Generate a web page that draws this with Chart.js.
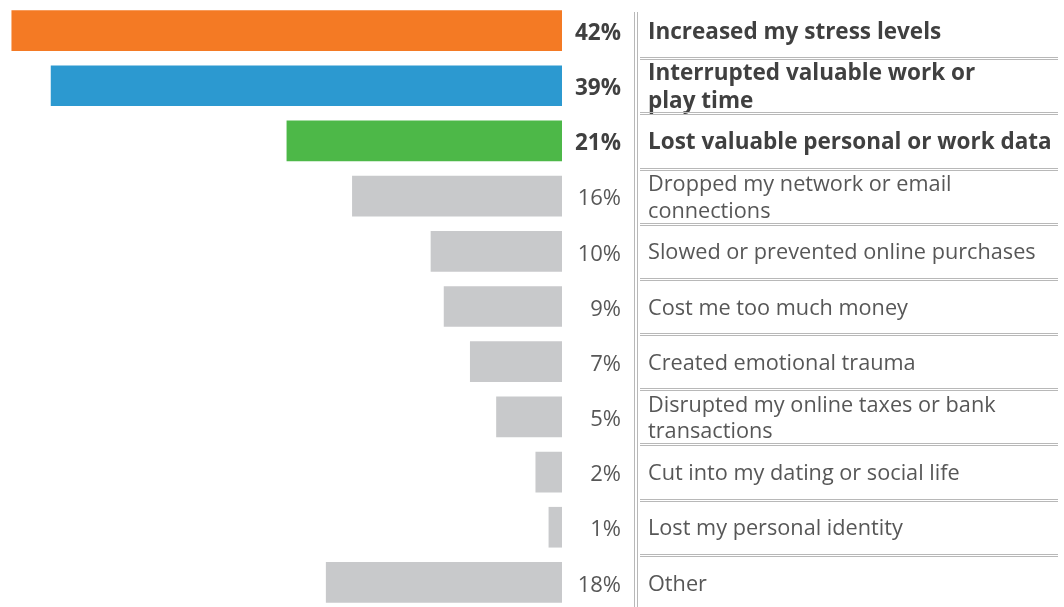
<!DOCTYPE html>
<html>
<head>
<meta charset="utf-8">
<script src="https://cdn.jsdelivr.net/npm/chart.js@4/dist/chart.umd.min.js"></script>
<style>
  html, body { margin: 0; padding: 0; background: #fff; overflow: hidden; }
  #wrap { width: 1064px; height: 610px; }
</style>
</head>
<body>
<div id="wrap"><canvas id="impactChart"></canvas></div>
<script>
// values
const categories = [
  "Increased my stress levels",
  ["Interrupted valuable work or", "play time"],
  "Lost valuable personal or work data",
  ["Dropped my network or email", "connections"],
  "Slowed or prevented online purchases",
  "Cost me too much money",
  "Created emotional trauma",
  ["Disrupted my online taxes or bank", "transactions"],
  "Cut into my dating or social life",
  "Lost my personal identity",
  "Other"
];
const percents = [42, 39, 21, 16, 10, 9, 7, 5, 2, 1, 18];
const barColors = ["#f47a24", "#2c99d0", "#4db848", "#c8c9cb", "#c8c9cb", "#c8c9cb",
  "#c8c9cb", "#c8c9cb", "#c8c9cb", "#c8c9cb", "#c8c9cb"];
const boldRows = 3; // first three rows are highlighted

const FONT = "'Open Sans', 'Noto Sans', sans-serif";
const lineCol = "#b8b8b8";

// percent numbers + separator lines, placed from the chart's own scales
const extras = {
  id: "extras",
  afterDraw(chart) {
    const { ctx, chartArea, scales } = chart;
    const y = scales.y;
    ctx.save();
    ctx.textAlign = "right";
    ctx.textBaseline = "middle";
    percents.forEach((v, i) => {
      const bold = i < boldRows;
      ctx.font = (bold ? "bold 22.5px " : "22px ") + FONT;
      ctx.fillStyle = bold ? "#404040" : "#575757";
      ctx.fillText(v + "%", chartArea.right + 59, y.getPixelForValue(i) + 3);
    });

    ctx.strokeStyle = lineCol;
    ctx.lineWidth = 1;
    // double vertical rule
    [634.5, 637.5].forEach(x => {
      ctx.beginPath();
      ctx.moveTo(x, 12);
      ctx.lineTo(x, chart.height);
      ctx.stroke();
    });
    // double separators between rows
    for (let i = 0; i < percents.length - 1; i++) {
      const mid = (y.getPixelForValue(i) + y.getPixelForValue(i + 1)) / 2;
      [mid - 1, mid + 1].forEach(yy => {
        const py = Math.round(yy) + 0.5;
        ctx.beginPath();
        ctx.moveTo(640, py);
        ctx.lineTo(1058, py);
        ctx.stroke();
      });
    }
    ctx.restore();
  }
};

new Chart(document.getElementById("impactChart"), {
  type: "bar",
  data: {
    labels: categories,
    datasets: [{
      data: percents,
      backgroundColor: barColors,
      borderWidth: 0,
      barThickness: 40
    }]
  },
  options: {
    indexAxis: "y",
    responsive: true,
    maintainAspectRatio: false,
    animation: false,
    layout: { padding: { top: 3, bottom: 0, left: 0, right: 0 } },
    plugins: { legend: { display: false }, tooltip: { enabled: false } },
    scales: {
      x: {
        display: false,
        reverse: true,
        min: 0,
        max: 42.9
      },
      y: {
        position: "right",
        grid: { display: false, drawTicks: false },
        border: { display: false },
        afterFit: (scale) => {
          scale.width = 502;
          scale.paddingTop = 0;
          scale.paddingBottom = 0;
        },
        ticks: {
          autoSkip: false,
          crossAlign: "near",
          padding: 86,
          labelOffset: 2,
          color: (c) => c.index < boldRows ? "#404040" : "#575757",
          font: (c) => ({
            family: FONT,
            size: c.index < boldRows ? 22.5 : 21.7,
            weight: c.index < boldRows ? "bold" : "normal",
            lineHeight: 1.22
          })
        }
      }
    }
  },
  plugins: [extras]
});
</script>
</body>
</html>
